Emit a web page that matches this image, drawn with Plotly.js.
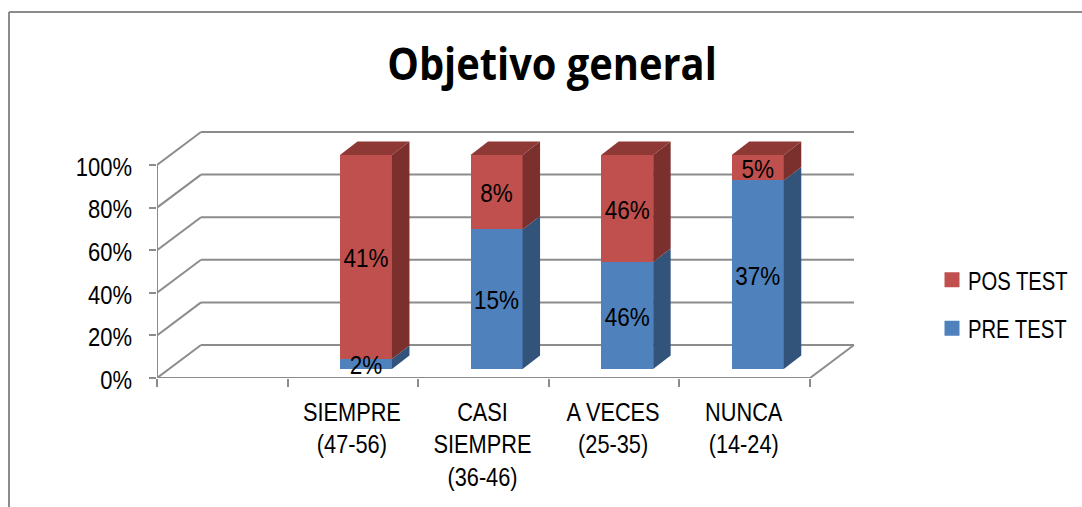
<!DOCTYPE html>
<html>
<head>
<meta charset="utf-8">
<script src="https://cdn.plot.ly/plotly-3.0.1.min.js"></script>
<style>html,body{margin:0;padding:0;background:#fff;overflow:hidden}#c{width:1082px;height:507px}</style>
</head>
<body>
<div id="c"></div>
<script>
const titleText = 'Objetivo general';
const categories = ['', 'SIEMPRE<br>(47-56)', 'CASI<br>SIEMPRE<br>(36-46)', 'A VECES<br>(25-35)', 'NUNCA<br>(14-24)'];
const preTest = [null, 2, 15, 46, 37];
const posTest = [null, 41, 8, 46, 5];
const yTicks = [0, 20, 40, 60, 80, 100];

const W = 1082, H = 507;
const L = 157, R = 856, T = 131, B = 378;
const pxX = 130.6, pxY = 2.13, pxY2 = 2.14;
const barBottomPx = 369;
const GRID = '#8c8c8c', RED = '#C0504D', BLUE = '#4F81BD';
const RED_SIDE = '#7B302E', RED_TOP = '#8F3937', BLUE_SIDE = '#32537A';
const FONT = '"Liberation Sans",Arial,sans-serif';

const xRange = [0, (R - L) / pxX];
const yRange = [0, (B - T) / pxY];
const y2Range = [-(B - barBottomPx) / pxY2, (barBottomPx - T) / pxY2];
const wallDX = 44 / pxX, wallDY = 33 / pxY;
const barDX = 17.5 / pxX, barDY = 13.5 / pxY2;
const barW = 52 / pxX, barShift = 0.1;

const idx = categories.map((_, i) => i + 0.5);
const barX = idx.map(v => v + barShift);

const wallX = [], wallY = [];
function seg(x0, y0, x1, y1) { wallX.push(x0, x1, null); wallY.push(y0, y1, null); }
const nCat = categories.length;
yTicks.forEach(t => {
  seg(0, t, wallDX, t + wallDY);
  seg(wallDX, t + wallDY, nCat + wallDX, t + wallDY);
});
seg(0, 0, 0, yTicks[yTicks.length - 1]);
seg(0, 0, nCat, 0);
seg(nCat, 0, nCat + wallDX, wallDY);

function faces(lowArr, highArr) {
  const xs = [], ys = [];
  lowArr.forEach((lo, i) => {
    if (lo === null) return;
    const hi = highArr[i], xr = barX[i] + barW / 2;
    xs.push(xr, xr + barDX, xr + barDX, xr, xr, null);
    ys.push(lo, lo + barDY, hi + barDY, hi, lo, null);
  });
  return { xs, ys };
}
const totals = preTest.map((v, i) => v === null ? null : v + posTest[i]);
const prePct = preTest.map((v, i) => v === null ? null : v / totals[i] * 100);
const full = preTest.map(v => v === null ? null : 100);
const zero = preTest.map(v => v === null ? null : 0);
const sideBlue = faces(zero, prePct);
const sideRed = faces(prePct, full);
const topX = [], topY = [];
barX.forEach((x, i) => {
  if (preTest[i] === null) return;
  const xl = x - barW / 2, xr = x + barW / 2;
  topX.push(xl, xr, xr + barDX, xl + barDX, xl, null);
  topY.push(100, 100, 100 + barDY, 100 + barDY, 100, null);
});
const labelX = [], labelY = [], labelT = [];
barX.forEach((x, i) => {
  if (preTest[i] === null) return;
  labelX.push(x, x);
  labelY.push(prePct[i] / 2, (prePct[i] + 100) / 2);
  labelT.push(preTest[i] + '%', posTest[i] + '%');
});

function poly(xs, ys, color) {
  return { type: 'scatter', mode: 'lines', x: xs, y: ys, xaxis: 'x', yaxis: 'y2', fill: 'toself',
    fillcolor: color, line: { width: 0, color: color }, showlegend: false, hoverinfo: 'skip' };
}

const traces = [
  { type: 'scatter', mode: 'lines', x: wallX, y: wallY, xaxis: 'x', yaxis: 'y', cliponaxis: false,
    line: { color: GRID, width: 2 }, showlegend: false, hoverinfo: 'skip' },
  { type: 'bar', name: 'PRE TEST', x: barX, y: preTest, width: barW, xaxis: 'x', yaxis: 'y2',
    marker: { color: BLUE, line: { width: 0 } }, legendgroup: 'a', legendrank: 2, hoverinfo: 'skip' },
  { type: 'bar', name: 'POS TEST', x: barX, y: posTest, width: barW, xaxis: 'x', yaxis: 'y2',
    marker: { color: RED, line: { width: 0 } }, legendgroup: 'b', legendrank: 1, hoverinfo: 'skip' },
  poly(sideBlue.xs, sideBlue.ys, BLUE_SIDE),
  poly(sideRed.xs, sideRed.ys, RED_SIDE),
  poly(topX, topY, RED_TOP),
  { type: 'scatter', mode: 'text', x: labelX, y: labelY, text: labelT, textposition: 'middle center',
    xaxis: 'x', yaxis: 'y2', cliponaxis: false, textfont: { family: FONT, size: 25, color: '#000' },
    showlegend: false, hoverinfo: 'skip' }
];

const layout = {
  width: W, height: H,
  margin: { l: 0, r: 0, t: 0, b: 0, pad: 0 },
  paper_bgcolor: '#fff', plot_bgcolor: 'rgba(0,0,0,0)',
  barmode: 'stack', barnorm: 'percent',
  font: { family: FONT, size: 25, color: '#000' },
  title: { text: titleText, x: 552 / W, xanchor: 'center', y: 1 - 65 / H, yanchor: 'middle',
    font: { family: '"Open Sans",sans-serif', size: 44, weight: 700, color: '#000' } },
  xaxis: {
    domain: [L / W, R / W],
    range: xRange, showgrid: false, zeroline: false, showline: false,
    tickmode: 'array', tickvals: idx, ticktext: categories, ticks: '', ticklabelstandoff: 17,
    tickangle: 0, fixedrange: true,
    minor: { tickmode: 'array', tickvals: Array.from({ length: nCat + 1 }, (_, i) => i),
      ticks: 'outside', ticklen: 8, tickwidth: 2, tickcolor: GRID, showgrid: false }
  },
  yaxis: {
    domain: [1 - B / H, 1 - T / H],
    range: yRange, showgrid: false, zeroline: false, showline: false,
    tickmode: 'array', tickvals: yTicks, ticktext: yTicks.map(v => v + '%'),
    ticks: 'outside', ticklen: 7, tickwidth: 2, tickcolor: GRID, ticklabelstandoff: 12, fixedrange: true
  },
  yaxis2: {
    domain: [1 - B / H, 1 - T / H],
    range: y2Range, overlaying: 'y', anchor: 'x', side: 'left', visible: false, fixedrange: true
  },
  legend: {
    x: 1, xanchor: 'right', y: 1 - 257 / H, yanchor: 'top',
    bgcolor: 'rgba(0,0,0,0)', traceorder: 'grouped', tracegroupgap: 13,
    font: { family: FONT, size: 25, color: '#000' }, itemwidth: 30
  },
  shapes: [
    { type: 'line', xref: 'paper', yref: 'paper', x0: 9 / W, x1: 9 / W,
      y0: 1 - 12 / H, y1: 0, line: { color: '#8c8c8c', width: 2 } },
    { type: 'line', xref: 'paper', yref: 'paper', x0: 9 / W, x1: 1,
      y0: 1 - 12 / H, y1: 1 - 12 / H, line: { color: '#8c8c8c', width: 2 } }
  ],
  showlegend: true
};

function narrow(sel, s, dx, dy) {
  document.querySelectorAll(sel).forEach(t => {
    const cx = parseFloat(t.getAttribute('x')) || 0;
    const old = t.getAttribute('transform') || '';
    t.setAttribute('transform', old + ' translate(' + (cx + (dx || 0)) + ' ' + (dy || 0) + ') scale(' + s + ' 1) translate(' + (-cx) + ' 0)');
  });
}
Plotly.newPlot('c', traces, layout, { displayModeBar: false, staticPlot: true }).then(() => {
  narrow('.xtick text', 0.87, -1, 0);
  narrow('.ytick text', 0.88, 0, 2);
  narrow('.textpoint text', 0.9, 0, 4);
  narrow('.legendtext', 0.81);
  narrow('.gtitle', 0.905);
  document.querySelectorAll('.legend .legendpoints path').forEach(p => {
    p.setAttribute('transform', (p.getAttribute('transform') || '') + ' translate(4 0) scale(1.25)');
  });
  const leg = document.querySelector('.legend');
  const m = /translate\(([-\d.]+)[ ,]+([-\d.]+)\)/.exec(leg.getAttribute('transform'));
  leg.setAttribute('transform', 'translate(928,' + m[2] + ')');
});
</script>
</body>
</html>
